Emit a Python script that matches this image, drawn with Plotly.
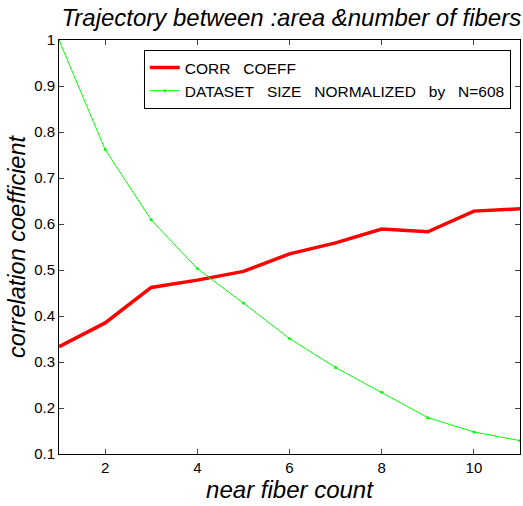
import plotly.graph_objects as go

x_vals = [1, 2, 3, 4, 5, 6, 7, 8, 9, 10, 11]
corr_coeff = [0.333, 0.385, 0.462, 0.478, 0.497, 0.535, 0.559, 0.589, 0.583, 0.628, 0.633]
dataset_size = [1.0, 0.762, 0.609, 0.503, 0.428, 0.351, 0.288, 0.234, 0.179, 0.148, 0.129]
x_ticks = [2, 4, 6, 8, 10]
y_ticks = [0.1, 0.2, 0.3, 0.4, 0.5, 0.6, 0.7, 0.8, 0.9, 1]
y_tick_text = ["0.1", "0.2", "0.3", "0.4", "0.5", "0.6", "0.7", "0.8", "0.9", "1"]

sp = "&nbsp;&nbsp;&nbsp;"
fig = go.Figure()
fig.add_trace(go.Scatter(
    x=x_vals, y=corr_coeff, mode="lines", name="CORR" + sp + "COEFF",
    line=dict(color="#ff0000", width=3.5),
))
fig.add_trace(go.Scatter(
    x=x_vals, y=dataset_size, mode="lines+markers",
    name=sp.join(["DATASET", "SIZE", "NORMALIZED", "by", "N=608"]),
    line=dict(color="#00ff00", width=1),
    marker=dict(color="#00ff00", size=3),
))

font_family = "Liberation Sans, Arial, sans-serif"
fig.update_layout(
    width=523, height=506,
    margin=dict(l=59, r=3, t=40, b=52),
    paper_bgcolor="white", plot_bgcolor="white",
    font=dict(family=font_family, color="black", size=15),
    title=dict(
        text="<i>Trajectory between :area &amp;number of fibers</i>",
        x=0.557, xanchor="center", y=0.966, yanchor="middle",
        font=dict(size=24, family=font_family),
    ),
    legend=dict(
        x=0.98, xanchor="right", y=0.976, yanchor="top",
        bordercolor="black", borderwidth=1, bgcolor="white",
        font=dict(size=15.5, family=font_family),
        tracegroupgap=0, itemwidth=30,
    ),
    showlegend=True,
)
fig.update_xaxes(
    range=[1, 11], tickvals=x_ticks, ticks="inside", ticklen=5,
    showline=True, linecolor="black", linewidth=1, mirror="ticks",
    showgrid=False, zeroline=False,
    tickfont=dict(size=15),
    title=dict(text="<i>near fiber count</i>", font=dict(size=24), standoff=4),
)
fig.update_yaxes(
    range=[0.1, 1], tickvals=y_ticks, ticktext=y_tick_text, ticks="inside", ticklen=5,
    showline=True, linecolor="black", linewidth=1, mirror="ticks",
    showgrid=False, zeroline=False,
    tickfont=dict(size=15),
    title=dict(text="<i>correlation coefficient</i>", font=dict(size=23.5), standoff=1),
)

fig.write_html("out.html")
